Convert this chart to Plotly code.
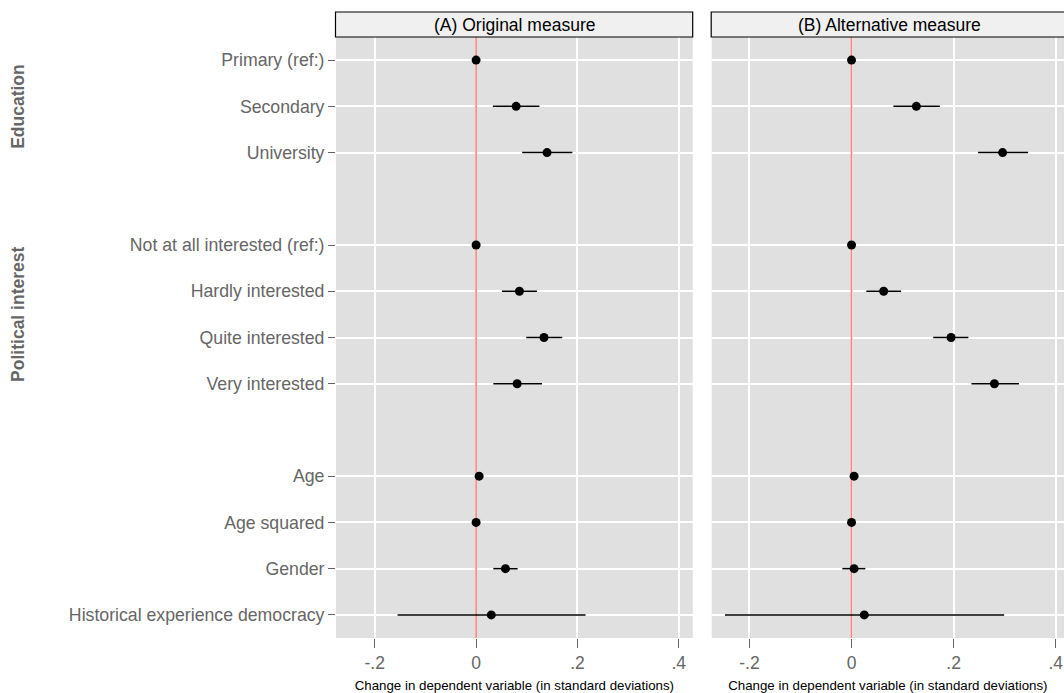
import plotly.graph_objects as go

# ---- data ----
labels = ["Primary (ref:)", "Secondary", "University",
          "Not at all interested (ref:)", "Hardly interested", "Quite interested", "Very interested",
          "Age", "Age squared", "Gender", "Historical experience democracy"]
rows = [0, 1, 2, 4, 5, 6, 7, 9, 10, 11, 12]

est_a = [0.0, 0.079, 0.140, 0.0, 0.0855, 0.134, 0.081, 0.006, 0.0, 0.058, 0.030]
lo_a = [0.0, 0.033, 0.091, 0.0, 0.051, 0.099, 0.034, 0.006, 0.0, 0.034, -0.155]
hi_a = [0.0, 0.125, 0.190, 0.0, 0.120, 0.170, 0.130, 0.006, 0.0, 0.082, 0.216]

est_b = [0.0, 0.127, 0.296, 0.0, 0.063, 0.195, 0.280, 0.005, 0.0, 0.005, 0.025]
lo_b = [0.0, 0.082, 0.248, 0.0, 0.029, 0.160, 0.235, 0.005, 0.0, -0.018, -0.248]
hi_b = [0.0, 0.173, 0.346, 0.0, 0.097, 0.229, 0.328, 0.005, 0.0, 0.027, 0.299]

ref_value = 0.0
panel_titles = ["(A) Original measure", "(B) Alternative measure"]
group_labels = ["Education", "Political interest"]
group_centers = [1, 5.5]
xticks = [-0.2, 0, 0.2, 0.4]
xticktext = ["-.2", "0", ".2", ".4"]
xtitle = "Change in dependent variable (in standard deviations)"

W, H = 1064, 693
FONT = "Liberation Sans, Arial, Helvetica, sans-serif"
BG = "#E0E0E0"
RED = "#F4877E"
TXT = "#666666"
YR = [12.5, -0.5]

def px(x):
    return x / W

def py(y):
    return 1 - y / H

fig = go.Figure()

for i, (est, lo, hi) in enumerate([(est_a, lo_a, hi_a), (est_b, lo_b, hi_b)]):
    xa = "x" if i == 0 else "x2"
    ya = "y" if i == 0 else "y2"
    # reference line at zero (drawn as a trace so that it sits above the grid)
    fig.add_trace(go.Scatter(
        x=[ref_value, ref_value], y=YR, xaxis=xa, yaxis=ya, mode="lines",
        line=dict(color=RED, width=1.6),
        showlegend=False, hoverinfo="skip"))
    fig.add_trace(go.Scatter(
        x=est, y=rows, xaxis=xa, yaxis=ya, mode="markers",
        marker=dict(color="black", size=9),
        error_x=dict(type="data", symmetric=False,
                     array=[h - e for h, e in zip(hi, est)],
                     arrayminus=[e - l for e, l in zip(est, lo)],
                     color="black", thickness=1.5, width=0),
        showlegend=False, hoverinfo="skip"))

ydom = [py(638), py(37)]
axis_common = dict(
    showgrid=True, gridcolor="white", gridwidth=1.5, zeroline=False,
    showline=False,
)
fig.update_layout(
    width=W, height=H, margin=dict(l=0, r=0, t=0, b=0),
    paper_bgcolor="white", plot_bgcolor=BG,
    font=dict(family=FONT),
    xaxis=dict(domain=[px(336), px(692.7)], range=[-0.2765, 0.4275],
               tickvals=xticks, ticktext=xticktext, ticks="outside", ticklen=9,
               tickcolor="#666666", tickwidth=1.2,
               tickfont=dict(size=17.5, color=TXT),
               title=dict(text=xtitle, font=dict(size=13.3, color="black"), standoff=8),
               anchor="y", **axis_common),
    xaxis2=dict(domain=[px(711.7), 1.0], range=[-0.274, 0.4163],
                tickvals=xticks, ticktext=xticktext, ticks="outside", ticklen=9,
                tickcolor="#666666", tickwidth=1.2,
                tickfont=dict(size=17.5, color=TXT),
                title=dict(text=xtitle, font=dict(size=13.3, color="black"), standoff=8),
                anchor="y2", **axis_common),
    yaxis=dict(domain=ydom, range=YR, tickvals=rows, ticktext=labels,
               ticks="outside", ticklen=7, tickcolor="#666666", tickwidth=1.2,
               tickfont=dict(size=17.7, color=TXT),
               anchor="x", **axis_common),
    yaxis2=dict(domain=ydom, range=YR, tickvals=rows,
                showticklabels=False, ticks="",
                anchor="x2", **axis_common),
)

# panel strips
strips = [(335.5, 692.7), (711.2, 1068.5)]
for (x0, x1), t in zip(strips, panel_titles):
    fig.add_shape(type="rect", xref="paper", yref="paper",
                  x0=px(x0), x1=px(x1), y0=py(37), y1=py(12),
                  fillcolor="#F0F0F0", line=dict(color="black", width=1.2))
    fig.add_annotation(xref="paper", yref="paper", x=px((x0 + x1) / 2), y=py(24.5),
                       text=t, showarrow=False, font=dict(size=17.5, color="black"),
                       xanchor="center", yanchor="middle")

# group labels
for g, c in zip(group_labels, group_centers):
    fig.add_annotation(xref="paper", yref="y", x=px(18.5), y=c, text="<b>%s</b>" % g,
                       textangle=-90, showarrow=False,
                       font=dict(size=17.5, color=TXT),
                       xanchor="center", yanchor="middle")

fig.write_html("out.html", config={"displayModeBar": False},
               post_script="document.body.style.margin='0';document.body.style.overflow='hidden';")
